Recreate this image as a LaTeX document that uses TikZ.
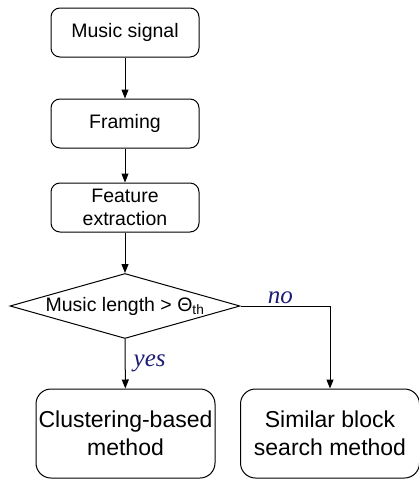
\documentclass[tikz,border=0pt]{standalone}
\usepackage{fontspec}
\setmainfont{Liberation Sans}
\newfontfamily\serifit{Liberation Serif}
\usetikzlibrary{shapes.geometric,arrows.meta}
\definecolor{labnavy}{RGB}{28,28,118}
\begin{document}
\begin{tikzpicture}[x=1pt,y=-1pt,
  every path/.style={line width=1pt},
  arr/.style={-{Triangle[length=9pt,width=7pt]}},
  topbox/.style={draw,rounded corners=9pt,minimum width=148pt,minimum height=49pt,inner sep=0pt,align=center,font=\fontsize{19.5}{23}\selectfont},
  botbox/.style={draw,rounded corners=15pt,minimum width=179pt,minimum height=89pt,inner sep=0pt,align=center,font=\fontsize{23}{28}\selectfont},
  decis/.style={draw,diamond,minimum width=230pt,minimum height=65pt,inner sep=0pt},
  lab/.style={text=labnavy,font=\fontsize{25}{25}\selectfont\serifit\itshape,inner sep=0pt}]
\useasboundingbox (0,0) rectangle (419,480);
\node[topbox] (ms) at (125,32.5) {Music signal};
\node[topbox] (fr) at (125,123.5) {Framing};
\node[topbox] (fe) at (125,207.5) {Feature\\extraction};
\node[decis,label={[font=\fontsize{19.5}{23}\selectfont,inner sep=0pt]center:Music length > Θ\textsubscript{th}}] (dl) at (125,306) {};
\node[botbox] (cb) at (125.5,433.5) {Clustering-based\\method};
\node[botbox] (sb) at (330,433.5) {Similar block\\search method};
\draw[arr] (ms) -- (fr);
\draw[arr] (fr) -- (fe);
\draw[arr] (fe) -- (dl);
\draw[arr] (dl) -- node[lab,anchor=west,pos=0.5,xshift=8pt] (yes) {yes} (cb);
\draw[arr] (dl.east) -| node[lab,anchor=south west,pos=0.15,yshift=2pt] (no) {no} (sb.north);
\end{tikzpicture}
\end{document}
